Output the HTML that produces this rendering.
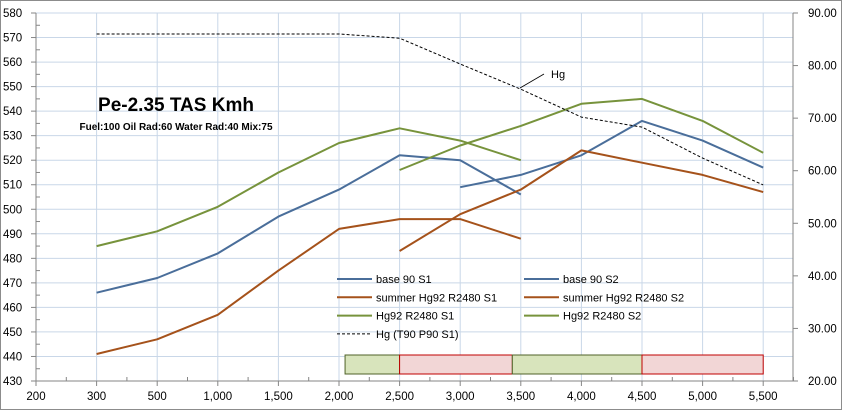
<!DOCTYPE html>
<html><head><meta charset="utf-8"><style>
body{margin:0;background:#fff;}
svg{display:block;font-family:"Liberation Sans",sans-serif;}
</style></head><body>
<svg id="c" width="843" height="411" xmlns="http://www.w3.org/2000/svg">
<rect x="0.5" y="0.5" width="841" height="409" fill="#fff" stroke="#8c8c8c"/>
<g id="grid"></g>
<g id="boxes"></g>
<g id="axes"></g>
<g id="series"></g>
<text x="176" y="111" font-size="19" font-weight="bold" text-anchor="middle">Pe-2.35 TAS Kmh</text>
<text x="176" y="130" font-size="10" font-weight="bold" text-anchor="middle">Fuel:100 Oil Rad:60 Water Rad:40 Mix:75</text>
<line x1="520" y1="88" x2="544" y2="74" stroke="#000" stroke-width="0.8"/>
<text x="551" y="78" font-size="11">Hg</text>
<g id="legend"></g>
</svg>
<script>
const categories=["200","300","500","1,000","1,500","2,000","2,500","3,000","3,500","4,000","4,500","5,000","5,500"];
const categoryValues=[200,300,500,1000,1500,2000,2500,3000,3500,4000,4500,5000,5500];
const leftTicks=[430,440,450,460,470,480,490,500,510,520,530,540,550,560,570,580];
const rightTicks=["20.00","30.00","40.00","50.00","60.00","70.00","80.00","90.00"];
const base90S1=[null,466,472,482,497,508,522,520,506,null,null,null,null];
const base90S2=[null,null,null,null,null,null,null,509,514,522,536,528,517];
const summerS1=[null,441,447,457,475,492,496,496,488,null,null,null,null];
const summerS2=[null,null,null,null,null,null,483,498,508,524,519,514,507];
const hg92S1=[null,485,491,501,515,527,533,528,520,null,null,null,null];
const hg92S2=[null,null,null,null,null,null,516,526,534,543,545,536,523];
const hgRight=[null,86,86,86,86,86,85.2,80.3,75.5,70.2,68.3,62.4,57.3];
const boxStarts=[2050,2500,3430,4500];
const boxEnds=[2500,3430,4500,5500];
const boxKinds=["green","red","green","red"];
const NS="http://www.w3.org/2000/svg";
const X0=36,DX=60.6,YB=381,YT=13;
const xi=i=>X0+DX*i;
const xv=v=>{const k=categoryValues;for(let i=0;i<k.length-1;i++){if(v<=k[i+1])return xi(i+(v-k[i])/(k[i+1]-k[i]));}return xi(12);};
const yl=v=>YB-(v-430)*(YB-YT)/150;
const yr=v=>YB-(v-20)*(YB-YT)/70;
function mk(tag,attrs,parent){const e=document.createElementNS(NS,tag);for(const k in attrs)e.setAttribute(k,attrs[k]);parent.appendChild(e);return e;}
const grid=document.getElementById('grid'),axes=document.getElementById('axes'),ser=document.getElementById('series'),boxes=document.getElementById('boxes'),leg=document.getElementById('legend');
leftTicks.forEach(t=>{const y=yl(t);
 const g=mk('line',{x1:X0,x2:793,y1:y,y2:y,stroke:'#c9d7e8','stroke-width':1},grid);
 
 
 const tk=mk('line',{x1:X0-5,x2:X0,y1:y,y2:y,stroke:'#868686'},axes);
 
 
 const tx=mk('text',{x:3,y:y+4,'font-size':11.5,fill:'#000'},axes);tx.textContent=t;
 
 
 if(t<580){const m=mk('line',{x1:X0,x2:X0+4,y1:yl(t+5),y2:yl(t+5),stroke:'#868686'},axes);
 
 }
});
categories.forEach((c,i)=>{const x=xi(i);
 if(i>0){const g=mk('line',{x1:x,x2:x,y1:YT,y2:YB,stroke:'#c9d7e8'},grid);
 
 }
 const tk=mk('line',{x1:x,x2:x,y1:YB,y2:YB+5,stroke:'#868686'},axes);
 
 
 const m=mk('line',{x1:x+DX/2,x2:x+DX/2,y1:YB-4,y2:YB,stroke:'#868686'},axes);
 
 
 const tx=mk('text',{x:x,y:400,'font-size':11.5,'text-anchor':'middle'},axes);tx.textContent=c;
 
 
});
rightTicks.forEach(t=>{const y=yr(parseFloat(t));
 const tk=mk('line',{x1:793,x2:798,y1:y,y2:y,stroke:'#868686'},axes);
 
 
 const tx=mk('text',{x:808,y:y+4,'font-size':11.5},axes);tx.textContent=t;
 
 
});
const la=mk('line',{x1:X0,x2:X0,y1:YT,y2:YB,stroke:'#868686'},axes);


const ba=mk('line',{x1:X0,x2:793,y1:YB,y2:YB,stroke:'#868686'},axes);


const ra=mk('line',{x1:793,x2:793,y1:YT,y2:YB,stroke:'#868686'},axes);


boxStarts.forEach((s,i)=>{const x1=xv(s),x2=xv(boxEnds[i]);
 const g=boxKinds[i]==='green';
 const r=mk('rect',{x:x1,y:355,width:x2-x1,height:19,fill:g?'#d8e4bc':'#f2d6d6',stroke:g?'#4f6228':'#c00000','stroke-width':1},boxes);
 
 
});
function pathOf(arr,yf){let d='';arr.forEach((v,i)=>{if(v==null)return;d+=(d?'L':'M')+xi(i).toFixed(1)+' '+yf(v).toFixed(1);});return d;}
const S=[
 [base90S1,'#4a6e9a','base 90 S1',0,0,false],
 [base90S2,'#4a6e9a','base 90 S2',1,0,false],
 [summerS1,'#a5521b','summer Hg92 R2480 S1',0,1,false],
 [summerS2,'#a5521b','summer Hg92 R2480 S2',1,1,false],
 [hg92S1,'#77933c','Hg92 R2480 S1',0,2,false],
 [hg92S2,'#77933c','Hg92 R2480 S2',1,2,false],
 [hgRight,'#000','Hg (T90 P90 S1)',0,3,true]];
S.forEach(s=>{
 const p=mk('path',{d:pathOf(s[0],s[5]?yr:yl),fill:'none',stroke:s[1],'stroke-width':s[5]?1:2,'stroke-dasharray':s[5]?'3,2':'none','stroke-linejoin':'round'},ser);
 
 
 const lx=s[3]?524:337,ly=279+s[4]*18.3;
 const l=mk('line',{x1:lx,x2:lx+35,y1:ly,y2:ly,stroke:s[1],'stroke-width':s[5]?1:2,'stroke-dasharray':s[5]?'3,2':'none'},leg);
 
 
 const t=mk('text',{x:lx+39,y:ly+4,'font-size':11},leg);t.textContent=s[2];
 
 
});
</script>
</body></html>
